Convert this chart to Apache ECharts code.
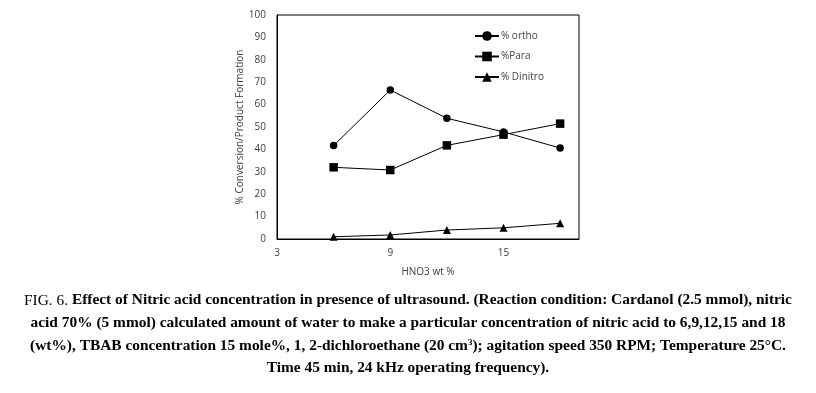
<!DOCTYPE html>
<html><head><meta charset="utf-8">
<script src="https://cdn.jsdelivr.net/npm/echarts@6/dist/echarts.min.js"></script>
<style>html,body{margin:0;padding:0;background:#fff}#c{width:816px;height:393px}</style>
</head><body><div id="c"></div>
<script>
const xValues = [6, 9, 12, 15, 18];
const orthoValues = [41.7, 66.5, 53.9, 47.8, 40.6];
const paraValues = [32, 30.8, 41.8, 46.6, 51.5];
const dinitroValues = [1.0, 1.8, 4.0, 5.0, 7.0];
const seriesNames = ['% ortho', '%Para', '% Dinitro'];
const xAxisName = 'HNO3 wt %';
const yAxisName = '% Conversion/Product Formation';
const captionLines = [
  '{r|FIG. 6. }{b|Effect of Nitric acid concentration in presence of ultrasound. (Reaction condition: Cardanol (2.5 mmol), nitric}',
  '{b|acid 70% (5 mmol) calculated amount of water to make a particular concentration of nitric acid to 6,9,12,15 and 18}',
  '{b|(wt%), TBAB concentration 15 mole%, 1, 2-dichloroethane (20 cm}{s|3}{b|); agitation speed 350 RPM; Temperature 25°C.}',
  '{b|Time 45 min, 24 kHz operating frequency).}'
];

const pair = v => xValues.map((x, i) => [x, v[i]]);
const chart = echarts.init(document.getElementById('c'), null, {renderer: 'canvas'});
const sans = 'Open Sans';
const capFont = 'Liberation Serif';
const rich = {
  r: {fontFamily: capFont, fontSize: 15.4, fontWeight: 'normal', color: '#000'},
  b: {fontFamily: capFont, fontSize: 15.4, fontWeight: 'bold', color: '#000'},
  s: {fontFamily: capFont, fontSize: 9, fontWeight: 'bold', color: '#000', verticalAlign: 'top', padding: [0,0,8,0]}
};
const capY = [302, 324.5, 347, 370];
chart.setOption({
  animation: false,
  backgroundColor: '#fff',
  grid: {left: 277, right: 237, top: 15, bottom: 154, show: true, borderColor: '#000', borderWidth: 1},
  xAxis: {
    type: 'value', min: 3, max: 19, interval: 6,
    name: xAxisName, nameLocation: 'middle', nameGap: 28,
    nameTextStyle: {fontFamily: sans, fontSize: 10, color: '#404040'},
    axisLine: {lineStyle: {color: '#000', width: 1}}, axisTick: {show: false},
    splitLine: {show: false},
    axisLabel: {fontFamily: sans, fontSize: 10, color: '#404040', margin: 9, showMaxLabel: false}
  },
  yAxis: {
    type: 'value', min: 0, max: 100, interval: 10,
    name: yAxisName, nameLocation: 'middle', nameGap: 32, nameRotate: 90,
    nameTextStyle: {fontFamily: sans, fontSize: 10, color: '#404040'},
    axisLine: {show: true, lineStyle: {color: '#000', width: 1}}, axisTick: {show: false},
    splitLine: {show: false},
    axisLabel: {fontFamily: sans, fontSize: 10, color: '#404040', margin: 11}
  },
  legend: {
    orient: 'vertical', left: 469, top: 26, itemGap: 10.5, itemWidth: 24, itemHeight: 12,
    textStyle: {fontFamily: sans, fontSize: 10, color: '#404040', padding: [0,0,0,-3]},
    data: seriesNames
  },
  series: [
    {name: seriesNames[0], type: 'line', data: pair(orthoValues), symbol: 'circle', symbolSize: 7.5,
     itemStyle: {color: '#000'}, lineStyle: {color: '#000', width: 1}},
    {name: seriesNames[1], type: 'line', data: pair(paraValues), symbol: 'rect', symbolSize: 8.5,
     itemStyle: {color: '#000'}, lineStyle: {color: '#000', width: 1}},
    {name: seriesNames[2], type: 'line', data: pair(dinitroValues), symbol: 'triangle', symbolSize: 8,
     itemStyle: {color: '#000'}, lineStyle: {color: '#000', width: 1}}
  ],
  graphic: captionLines.map((t, i) => ({
    type: 'text', left: 'center', top: capY[i] - 9,
    style: {text: t, rich: rich, fill: '#000'}
  }))
});
</script></body></html>
